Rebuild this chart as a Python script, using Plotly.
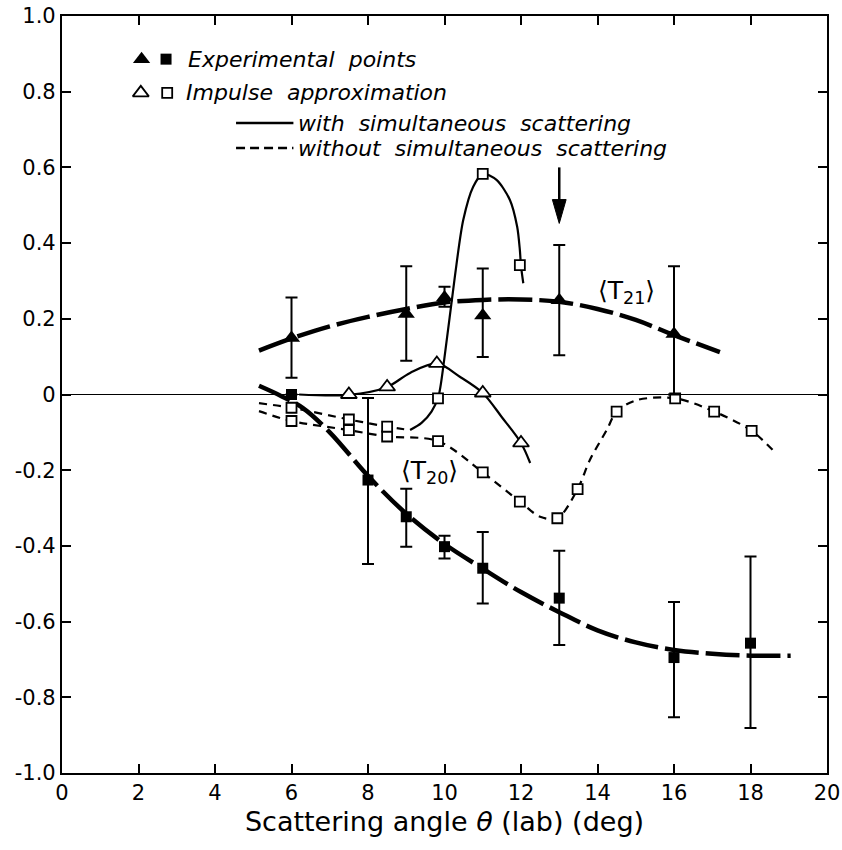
import plotly.graph_objects as go

# ---------------- data ----------------
# Experimental <T21> (filled triangles)
t21_x = [6, 9, 10, 11, 13, 16]
t21_y = [0.149, 0.213, 0.256, 0.209, 0.249, 0.160]
t21_hi = [0.256, 0.339, 0.285, 0.333, 0.395, 0.339]
t21_lo = [0.044, 0.089, 0.232, 0.099, 0.104, 0.000]

# Experimental <T20> (filled squares)
t20_x = [6, 8, 9, 10, 11, 13, 16, 18]
t20_y = [0.0, -0.226, -0.323, -0.402, -0.459, -0.538, -0.695, -0.657]
t20_hi = [0.0, -0.009, -0.249, -0.373, -0.363, -0.413, -0.548, -0.428]
t20_lo = [0.0, -0.448, -0.402, -0.433, -0.552, -0.662, -0.853, -0.881]

# Fitted curves through experimental points (thick broken lines)
fit21_x = [5.15, 6, 7, 8, 9, 10, 11, 12, 13, 14, 15, 16, 17.2]
fit21_y = [0.116, 0.148, 0.180, 0.205, 0.226, 0.243, 0.250, 0.251, 0.245, 0.226, 0.197, 0.157, 0.112]
fit20_x = [5.15, 5.75, 6.3, 7, 8, 9, 10, 11, 12, 13, 14, 15, 16, 17, 18, 19.05]
fit20_y = [0.023, -0.005, -0.036, -0.100, -0.215, -0.315, -0.395, -0.460, -0.522, -0.575, -0.623, -0.655, -0.675, -0.685, -0.690, -0.690]

# Impulse approximation, <T21> (open triangles), with simultaneous scattering
ia21_x = [7.5, 8.5, 9.8, 11, 12]
ia21_y = [0.0, 0.02, 0.082, 0.004, -0.128]
ia21_line_x = [6.2, 7.5, 8.5, 9.1, 9.8, 10.4, 11, 11.5, 12, 12.24]
ia21_line_y = [0.0, -0.001, 0.02, 0.057, 0.082, 0.047, 0.004, -0.06, -0.128, -0.181]

# Impulse approximation, <T20> (open squares), with simultaneous scattering
ia20w_x = [6, 7.5, 8.5, 9.83, 11, 11.97]
ia20w_y = [-0.035, -0.066, -0.085, -0.010, 0.583, 0.342]
ia20w_dash_x = [5.15, 6, 7.5, 8.5, 9.1]
ia20w_dash_y = [-0.023, -0.035, -0.066, -0.085, -0.094]
ia20w_solid_x = [9.1, 9.4, 9.66, 9.84, 9.99, 10.27, 10.49, 10.75, 11.0, 11.36, 11.71, 11.9, 11.97, 12.0, 12.06]
ia20w_solid_y = [-0.094, -0.075, -0.045, -0.006, 0.09, 0.311, 0.461, 0.549, 0.583, 0.567, 0.514, 0.443, 0.382, 0.34, 0.294]

# Impulse approximation, <T20> (open squares), without simultaneous scattering
ia20o_x = [6, 7.5, 8.5, 9.83, 11, 11.97, 12.95, 13.48, 14.5, 16.03, 17.05, 18.03]
ia20o_y = [-0.070, -0.094, -0.111, -0.123, -0.206, -0.283, -0.327, -0.250, -0.045, -0.010, -0.045, -0.096]
ia20o_line_x = [5.15, 6, 7.5, 8.5, 9.83, 11, 11.97, 12.5, 12.95, 13.48, 13.8, 14.24, 14.5, 15.02, 16.03, 17.05, 18.03, 18.68]
ia20o_line_y = [-0.044, -0.070, -0.094, -0.111, -0.123, -0.206, -0.283, -0.323, -0.327, -0.250, -0.173, -0.094, -0.045, -0.015, -0.010, -0.045, -0.096, -0.157]

x_ticks = [0, 2, 4, 6, 8, 10, 12, 14, 16, 18, 20]
x_labels = ["0", "2", "4", "6", "8", "10", "12", "14", "16", "18", "20"]
y_ticks = [1.0, 0.8, 0.6, 0.4, 0.2, 0, -0.2, -0.4, -0.6, -0.8, -1.0]
y_labels = ["1.0", "0.8", "0.6", "0.4", "0.2", "0", "-0.2", "-0.4", "-0.6", "-0.8", "-1.0"]

# ---------------- figure ----------------
BK = "black"
fig = go.Figure()

# thick fitted lines
fig.add_trace(go.Scatter(x=fit21_x, y=fit21_y, mode="lines",
                         line=dict(color=BK, width=4.5, dash="34px,7px", shape="spline", smoothing=1.0)))
fig.add_trace(go.Scatter(x=fit20_x, y=fit20_y, mode="lines",
                         line=dict(color=BK, width=4.5, dash="34px,7px", shape="spline", smoothing=1.0)))

# impulse approximation lines
fig.add_trace(go.Scatter(x=ia20o_line_x, y=ia20o_line_y, mode="lines",
                         line=dict(color=BK, width=2.2, dash="8px,6px", shape="spline", smoothing=0.9)))
fig.add_trace(go.Scatter(x=ia20w_dash_x, y=ia20w_dash_y, mode="lines",
                         line=dict(color=BK, width=2.2, dash="8px,6px", shape="spline", smoothing=0.9)))
fig.add_trace(go.Scatter(x=ia20w_solid_x, y=ia20w_solid_y, mode="lines",
                         line=dict(color=BK, width=2.2, shape="spline", smoothing=0.8)))
fig.add_trace(go.Scatter(x=ia21_line_x, y=ia21_line_y, mode="lines",
                         line=dict(color=BK, width=2.2, shape="spline", smoothing=0.9)))

# impulse approximation markers
open_sq = dict(symbol="square", size=10, color="white", line=dict(color=BK, width=1.8))
fig.add_trace(go.Scatter(x=ia20o_x, y=ia20o_y, mode="markers", marker=open_sq))
fig.add_trace(go.Scatter(x=ia20w_x, y=ia20w_y, mode="markers", marker=open_sq))
fig.add_trace(go.Scatter(x=ia21_x, y=ia21_y, mode="markers",
                         marker=dict(symbol="triangle-up", size=14, color="white",
                                     line=dict(color=BK, width=1.8))))

# experimental points with error bars
fig.add_trace(go.Scatter(
    x=t21_x, y=t21_y, mode="markers",
    marker=dict(symbol="triangle-up", size=15, color=BK),
    error_y=dict(type="data", symmetric=False,
                 array=[h - v for h, v in zip(t21_hi, t21_y)],
                 arrayminus=[v - l for l, v in zip(t21_lo, t21_y)],
                 color=BK, thickness=2, width=6)))
fig.add_trace(go.Scatter(
    x=t20_x, y=t20_y, mode="markers",
    marker=dict(symbol="square", size=11, color=BK),
    error_y=dict(type="data", symmetric=False,
                 array=[h - v for h, v in zip(t20_hi, t20_y)],
                 arrayminus=[v - l for l, v in zip(t20_lo, t20_y)],
                 color=BK, thickness=2, width=6)))

# legend glyphs (drawn as markers)
fig.add_trace(go.Scatter(x=[2.08], y=[0.886], mode="markers",
                         marker=dict(symbol="triangle-up", size=15, color=BK)))
fig.add_trace(go.Scatter(x=[2.72], y=[0.886], mode="markers",
                         marker=dict(symbol="square", size=11, color=BK)))
fig.add_trace(go.Scatter(x=[2.06], y=[0.797], mode="markers",
                         marker=dict(symbol="triangle-up", size=14, color="white",
                                     line=dict(color=BK, width=1.8))))
fig.add_trace(go.Scatter(x=[2.75], y=[0.797], mode="markers", marker=open_sq))

shapes = [
    dict(type="line", xref="x", yref="y", x0=4.55, x1=6.05, y0=0.717, y1=0.717,
         line=dict(color=BK, width=2.5)),
    dict(type="line", xref="x", yref="y", x0=4.55, x1=6.05, y0=0.651, y1=0.651,
         line=dict(color=BK, width=2.5, dash="9px,5px")),
    # arrow
    dict(type="line", xref="x", yref="y", x0=13.0, x1=13.0, y0=0.60, y1=0.50,
         line=dict(color=BK, width=2.5)),
    dict(type="path", xref="x", yref="y",
         path="M 12.82 0.515 L 13.18 0.515 L 13.0 0.452 Z",
         fillcolor=BK, line=dict(color=BK, width=1)),
]

LEG_FONT = dict(family="DejaVu Sans, Verdana, sans-serif", size=22, color=BK)
annotations = [
    dict(x=3.25, y=0.886, xref="x", yref="y", xanchor="left", yanchor="middle", showarrow=False,
         text="<i>Experimental  points</i>", font=LEG_FONT),
    dict(x=3.2, y=0.797, xref="x", yref="y", xanchor="left", yanchor="middle", showarrow=False,
         text="<i>Impulse  approximation</i>", font=LEG_FONT),
    dict(x=6.12, y=0.717, xref="x", yref="y", xanchor="left", yanchor="middle", showarrow=False,
         text="<i>with  simultaneous  scattering</i>", font=LEG_FONT),
    dict(x=6.12, y=0.651, xref="x", yref="y", xanchor="left", yanchor="middle", showarrow=False,
         text="<i>without  simultaneous  scattering</i>", font=LEG_FONT),
    dict(x=14.75, y=0.27, xref="x", yref="y", xanchor="center", yanchor="middle", showarrow=False,
         text="⟨T<sub>21</sub>⟩", font=dict(family="DejaVu Sans, sans-serif", size=25, color=BK)),
    dict(x=9.6, y=-0.205, xref="x", yref="y", xanchor="center", yanchor="middle", showarrow=False,
         text="⟨T<sub>20</sub>⟩", font=dict(family="DejaVu Sans, sans-serif", size=25, color=BK)),
]

TICK_FONT = dict(family="DejaVu Sans, sans-serif", size=21, color=BK)

fig.update_layout(
    width=842, height=850,
    margin=dict(l=62, r=15, t=16, b=77),
    paper_bgcolor="white", plot_bgcolor="white",
    showlegend=False,
    shapes=shapes, annotations=annotations,
    xaxis=dict(range=[0, 20], tickvals=x_ticks, ticktext=x_labels, automargin=False,
               ticks="inside", ticklen=9, tickwidth=1.5, tickcolor=BK,
               showline=True, linecolor=BK, linewidth=2.2, mirror="ticks",
               showgrid=False, zeroline=False, tickfont=TICK_FONT,
               title=dict(text="Scattering angle <i>θ</i> (lab) (deg)",
                          font=dict(family="DejaVu Sans, sans-serif", size=27, color=BK),
                          standoff=8)),
    yaxis=dict(range=[-1, 1], tickvals=y_ticks, ticktext=y_labels, automargin=False,
               ticks="inside", ticklen=9, tickwidth=1.5, tickcolor=BK,
               showline=True, linecolor=BK, linewidth=2.2, mirror="ticks",
               showgrid=False, zeroline=True, zerolinecolor=BK, zerolinewidth=1.2,
               tickfont=TICK_FONT),
)

# remove the default 8px body margin so the figure sits at the window origin
fig.write_html("out.html", config={"displayModeBar": False},
               post_script="document.body.style.margin='0';")
